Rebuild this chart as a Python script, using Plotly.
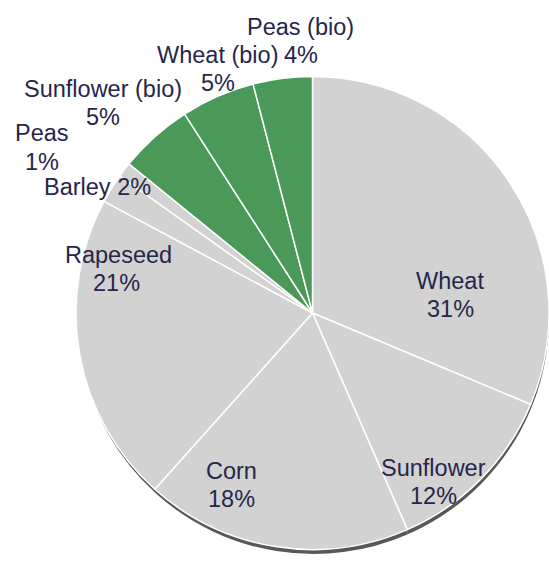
import plotly.graph_objects as go

# ---- data ----
crops = ["Wheat", "Sunflower", "Corn", "Rapeseed", "Barley", "Peas",
         "Sunflower (bio)", "Wheat (bio)", "Peas (bio)"]
shares = [31, 12, 18, 21, 2, 1, 5, 5, 4]
is_bio = [False, False, False, False, False, False, True, True, True]

# ---- layout / style (not data) ----
W, H = 549, 561
GREY = "#d2d2d2"
GREEN = "#4a9958"
TEXT = "#27264a"
FONT = "Liberation Sans, Arial, sans-serif"
FSIZE = 23.5

# label line centres in pixels
label_lines_pos = {
    "Wheat": [(450, 281), (450, 309.5)],
    "Sunflower": [(433.5, 468), (433, 496)],
    "Corn": [(231, 471), (231, 499)],
    "Rapeseed": [(118, 255), (117, 283)],
    "Barley": [(97.5, 187)],
    "Peas": [(42, 133), (42, 162)],
    "Sunflower (bio)": [(103, 89), (103, 117)],
    "Wheat (bio)": [(217.5, 55), (218, 83)],
    "Peas (bio)": [(300.5, 27), (301, 55)],
}

colors = [GREEN if b else GREY for b in is_bio]

# pie geometry
cx, cy, r = 312.5, 313.0, 236.5
x0 = (cx - r) / W
x1 = min(1.0, (cx + r) / W)
y_top = 1 - (cy - r) / H
y_bot = 1 - (cy + r) / H
shadow_dy = 5.5 / H
shadow_dx = 2.0 / W

fig = go.Figure()

# shadow (same slices, dark, slightly lower/right)
fig.add_trace(go.Pie(
    labels=crops, values=shares, sort=False, direction="clockwise", rotation=0,
    marker=dict(colors=["#585858"] * len(crops), line=dict(width=0)),
    textinfo="none", hoverinfo="skip", showlegend=False,
    domain=dict(x=[x0 + shadow_dx, min(1.0, x1 + shadow_dx)],
                y=[y_bot - shadow_dy, y_top - shadow_dy]),
))

fig.add_trace(go.Pie(
    labels=crops, values=shares, sort=False, direction="clockwise", rotation=0,
    marker=dict(colors=colors, line=dict(color="white", width=1.5)),
    textinfo="none", showlegend=False,
    domain=dict(x=[x0, x1], y=[y_bot, y_top]),
))

annotations = []
for name, val in zip(crops, shares):
    pos = label_lines_pos[name]
    pct = f"{val}%"
    lines = [name, pct] if len(pos) == 2 else [f"{name} {pct}"]
    for (px, py), txt in zip(pos, lines):
        annotations.append(dict(
            x=px / W, y=1 - py / H, xref="paper", yref="paper",
            xanchor="center", yanchor="middle", showarrow=False,
            text=txt, font=dict(family=FONT, size=FSIZE, color=TEXT),
        ))

fig.update_layout(
    width=W, height=H,
    margin=dict(l=0, r=0, t=0, b=0),
    paper_bgcolor="white", plot_bgcolor="white",
    annotations=annotations,
    showlegend=False,
)

fig.write_html("out.html", config={"displayModeBar": False},
               post_script="document.body.style.margin='0';")
